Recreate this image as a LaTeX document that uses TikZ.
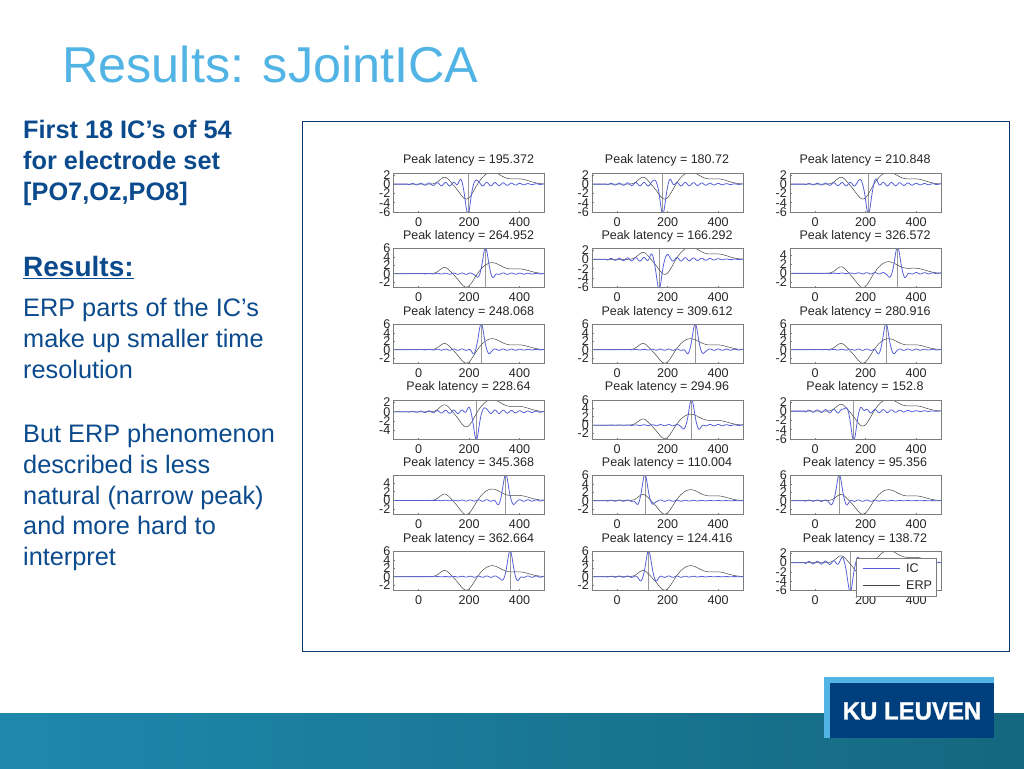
\documentclass[tikz,border=0pt]{standalone}
\usepackage{fontspec}
\setmainfont{Liberation Sans}
\newfontfamily\logofont[FakeBold=1.2,FakeStretch=0.96]{Liberation Sans Bold}
\usepackage{tikz}
\usetikzlibrary{positioning}

\definecolor{kublue}{HTML}{0B4A8C}
\definecolor{kusky}{HTML}{52B4E5}
\definecolor{kunavy}{HTML}{003F7D}
\definecolor{kufootl}{HTML}{1F88AD}
\definecolor{kufootr}{HTML}{14687F}
\definecolor{icblue}{HTML}{5560D8}
\definecolor{axgray}{HTML}{7C7C7C}

% one panel: name, left, top, latency, ymin, ymax, amplitude, ticks
\newcommand{\panel}[8]{
  \begin{scope}
    \clip (#2,#3) rectangle ++(151,39);
    \draw[peakline] ({#2+0.252*(#4+100)},#3) -- ++(0,39);
    \draw[erpline] plot[domain=-100:500,samples=140,smooth]
      ({#2+0.252*(\x+100)},{#3+39-39*(erp(\x)-(#5))/(#6-(#5))});
    \draw[icline] plot[domain=-100:500,samples=240,smooth]
      ({#2+0.252*(\x+100)},{#3+39-39*(ic(\x,#4,#7)-(#5))/(#6-(#5))});
  \end{scope}
  \draw[axbox] (#2,#3) rectangle ++(151,39);
  \node[paneltitle] (#1) at ({#2+75},{#3-12.5}) {Peak latency = #4};
  \foreach \tk [count=\i] in {0,200,400} {
    \draw[axbox] ({#2+0.252*(\tk+100)},{#3+39}) -- ++(0,-1.5);
    \node[ticklabel] (#1x\i) at ({#2+0.252*(\tk+100)},{#3+49}) {\tk};
  }
  \foreach \tk [count=\i] in {#8} {
    \draw[axbox] (#2,{#3+39-39*(\tk-(#5))/(#6-(#5))}) -- ++(1.5,0);
    \node[ticklabel,anchor=east] (#1y\i) at ({#2-3},{#3+39-39*(\tk-(#5))/(#6-(#5))}) {\tk};
  }
}

\begin{document}
\begin{tikzpicture}[
    x=1pt,y=-1pt,
    declare function={
      erp(\t)=1.5*exp(-((\t-103)/27)^2)-3.3*exp(-((\t-190)/38)^2)+2.6*exp(-((\t-290)/55)^2)+1.1*exp(-((\t-400)/55)^2);
      ic(\t,\p,\a)=\a*exp(-((\t-\p)/14)^2)-0.16*\a*exp(-((\t-\p-30)/10)^2)-0.16*\a*exp(-((\t-\p+30)/10)^2)+(0.32-0.02*\a)*sin(11*\t)*(1-exp(-((\t-\p)/35)^2))*exp(-((\t-\p)/210)^2)*(\t>-40);
    },
    erpline/.style={line width=0.5pt,draw=black!72},
    icline/.style={line width=0.8pt,draw=icblue},
    peakline/.style={line width=0.7pt,draw=black!40},
    axbox/.style={line width=0.7pt,draw=axgray},
    paneltitle/.style={inner sep=0pt,text=black!85,font=\fontsize{12.5}{14}\selectfont},
    ticklabel/.style={inner sep=0pt,text=black!85,font=\fontsize{12.6}{14}\selectfont},
    bodytext/.style={anchor=north west,inner sep=0pt,align=left,text=kublue,font=\fontsize{25.3}{30.8}\selectfont}
]
\useasboundingbox (0,0) rectangle (1024,768);

% FOOTER
\shade[left color=kufootl,right color=kufootr] (0,713) rectangle (1024,768);
\fill[kusky] (824,677) rectangle (994,738);
\fill[kunavy] (830,683) rectangle (994,738);
\node[text=white,inner sep=0pt,font=\fontsize{25}{28}\logofont] (logo) at (912,711) {KU LEUVEN};

% TEXT
\node[anchor=base west,inner sep=0pt,text=kusky,font=\fontsize{50.4}{56}\selectfont] (title) at (62,82) {Results: sJointICA};
\node[bodytext,font=\fontsize{25.3}{30.8}\bfseries\selectfont] (intro) at (23,120) {First 18 IC’s of 54\\for electrode set\\{[PO7,Oz,PO8]}};
\node[bodytext,font=\fontsize{28}{30}\bfseries\selectfont] (reshead) at (23,256) {\underline{Results:}};
\node[bodytext] (erpnote) at (23,298) {ERP parts of the IC’s\\make up smaller time\\resolution};
\node[bodytext] (butnote) at (23,424) {But ERP phenomenon\\described is less\\natural (narrow peak)\\and more hard to\\interpret};

% FRAME
\draw[line width=0.8pt,draw=kublue!80!black] (302,121) rectangle (1009,651);

% ROW 1
\panel{pa}{393.5}{173}{195.372}{-6}{2.4}{-6.4}{2,0,-2,-4,-6}
\panel{pb}{592}{173}{180.72}{-6}{2.4}{-6.4}{2,0,-2,-4,-6}
\panel{pc}{790}{173}{210.848}{-6}{2.4}{-6.4}{2,0,-2,-4,-6}

% ROW 2
\panel{pd}{393.5}{248.5}{264.952}{-3.3}{6}{6.2}{6,4,2,0,-2}
\panel{pe}{592}{248.5}{166.292}{-6}{2.3}{-6.3}{2,0,-2,-4,-6}
\panel{pf}{790}{248.5}{326.572}{-3.2}{5.6}{6}{4,2,0,-2}

% ROW 3
\panel{pg}{393.5}{324.5}{248.068}{-3.3}{6}{6.2}{6,4,2,0,-2}
\panel{ph}{592}{324.5}{309.612}{-3.3}{6}{6.2}{6,4,2,0,-2}
\panel{pi}{790}{324.5}{280.916}{-3.3}{6}{6.2}{6,4,2,0,-2}

% ROW 4
\panel{pj}{393.5}{400}{228.64}{-5.8}{2.5}{-5.9}{2,0,-2,-4}
\panel{pk}{592}{400}{294.96}{-3.3}{6}{6.2}{6,4,2,0,-2}
\panel{pl}{790}{400}{152.8}{-6}{2.4}{-6.3}{2,0,-2,-4,-6}

% ROW 5
\panel{pm}{393.5}{475.5}{345.368}{-3.2}{5.7}{6}{4,2,0,-2}
\panel{pn}{592}{475.5}{110.004}{-3.3}{6}{6.2}{6,4,2,0,-2}
\panel{po}{790}{475.5}{95.356}{-3.3}{6}{6.2}{6,4,2,0,-2}

% ROW 6
\panel{pp}{393.5}{551.5}{362.664}{-3.3}{6}{6.2}{6,4,2,0,-2}
\panel{pq}{592}{551.5}{124.416}{-3.3}{6}{6.2}{6,4,2,0,-2}
\panel{pr}{790}{551.5}{138.72}{-6}{2.4}{-6.3}{2,0,-2,-4,-6}

% LEGEND
\draw[axbox,fill=white] (856,558) rectangle (936,596);
\draw[icline] (863,568) -- (900,568);
\draw[erpline] (863,585) -- (900,585);
\node[ticklabel,anchor=west] (lgic) at (906,568) {IC};
\node[ticklabel,anchor=west] (lgerp) at (906,585) {ERP};

\end{tikzpicture}
\end{document}
